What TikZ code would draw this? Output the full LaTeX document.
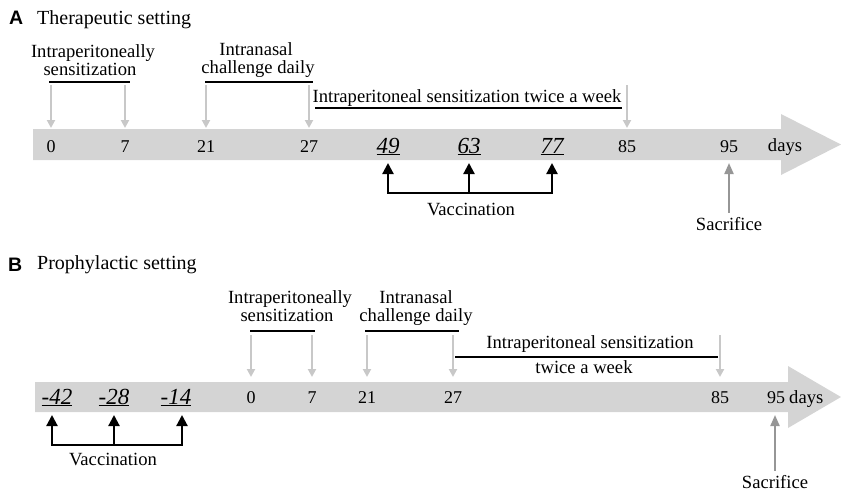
\documentclass[tikz,border=0pt]{standalone}
\usepackage{fontspec}
\setmainfont{Liberation Serif}
\newfontfamily\headfont{Liberation Sans}
\usetikzlibrary{arrows.meta}
\definecolor{bargray}{RGB}{212,212,212}
\definecolor{tickgray}{RGB}{200,200,200}
\definecolor{sacgray}{RGB}{150,150,150}

\begin{document}
\begin{tikzpicture}[x=1pt, y=-1pt,
    lbl/.style={anchor=base, inner sep=0pt, font=\fontsize{18.6}{20}\selectfont},
    title/.style={anchor=base west, inner sep=0pt, font=\fontsize{20}{22}\selectfont},
    panel/.style={anchor=base west, inner sep=0pt, font=\headfont\bfseries\fontsize{19.5}{22}\selectfont},
    num/.style={lbl, font=\fontsize{18}{20}\selectfont},
    vnum/.style={lbl, font=\fontsize{23}{25}\selectfont\itshape},
    bar/.style={fill=bargray, draw=none},
    tickarrow/.style={-{Triangle[width=8pt,length=8pt]}, line width=2.6pt, tickgray},
    bracket/.style={line width=1.3pt, black},
    vacarrow/.style={-{Triangle[width=11pt,length=11pt]}, line width=2.2pt, black},
    vacline/.style={line width=2.2pt, black, line cap=rect},
    sacarrow/.style={-{Triangle[width=9pt,length=11pt]}, line width=2pt, sacgray}
  ]
  \useasboundingbox (0,0) rectangle (841,491);

  % ---- A: therapeutic setting ----
  \node[panel] (headA) at (9,24) {A};
  \node[title] (titleA) at (37,24) {Therapeutic setting};

  \fill[bar] (33,129) -- (781,129) -- (781,114) -- (841,144.5) -- (781,175) -- (781,160) -- (33,160) -- cycle;

  \node[num] (a0) at (51,152) {0};
  \node[num] (a7) at (125,152) {7};
  \node[num] (a21) at (206,152) {21};
  \node[num] (a27) at (309,152) {27};
  \node[vnum] (a49) at (388,153) {\underline{49}};
  \node[vnum] (a63) at (469,153) {\underline{63}};
  \node[vnum] (a77) at (552,153) {\underline{77}};
  \node[num] (a85) at (627,152) {85};
  \node[num] (a95) at (729,152) {95};
  \node[lbl] (daysA) at (785,151) {days};

  \node[lbl] (ipsA1) at (93,57) {Intraperitoneally};
  \node[lbl] (ipsA2) at (90,75) {sensitization};
  \node[lbl] (inA1) at (256,55) {Intranasal};
  \node[lbl] (inA2) at (258,73) {challenge daily};
  \node[lbl] (twA) at (467,102) {Intraperitoneal sensitization twice a week};

  \coordinate (tickAtop) at (0,85);
  \coordinate (tickAbot) at (0,128);
  \coordinate (brA) at (0,82);
  \coordinate (twlineA) at (0,108);
  \foreach \n in {a0,a7,a21,a27,a85}
    \draw[tickarrow] (\n |- tickAtop) -- (\n |- tickAbot);
  \draw[bracket, shorten <=-2pt, shorten >=-5pt] (a0 |- brA) -- (a7 |- brA);
  \draw[bracket, shorten <=-1pt, shorten >=-4pt] (a21 |- brA) -- (a27 |- brA);
  \draw[bracket, shorten <=6pt, shorten >=5pt] (a27 |- twlineA) -- (a85 |- twlineA);

  % vaccination
  \coordinate (vacA) at (0,193);
  \coordinate (barAbot) at (0,163);
  \draw[vacline] (a49 |- vacA) -- (a77 |- vacA);
  \foreach \n in {a49,a63,a77}
    \draw[vacarrow] (\n |- vacA) -- (\n |- barAbot);
  \node[lbl] (vacAtxt) at (471,215) {Vaccination};

  \node[lbl] (sacA) at (729,230) {Sacrifice};
  \draw[sacarrow, shorten <=4pt] (sacA.north) -- (sacA.north |- barAbot);

  % ---- B: prophylactic setting ----
  \node[panel] (headB) at (8,271) {B};
  \node[title] (titleB) at (37,269) {Prophylactic setting};

  \fill[bar] (35,382) -- (788,382) -- (788,366) -- (841,397) -- (788,428) -- (788,412) -- (35,412) -- cycle;

  \node[vnum] (bm42) at (57,404) {\underline{-42}};
  \node[vnum] (bm28) at (114,404) {\underline{-28}};
  \node[vnum] (bm14) at (176,404) {\underline{-14}};
  \node[num] (b0) at (251,403) {0};
  \node[num] (b7) at (312,403) {7};
  \node[num] (b21) at (367,403) {21};
  \node[num] (b27) at (453,403) {27};
  \node[num] (b85) at (720,403) {85};
  \node[num] (b95) at (776,403) {95};
  \node[lbl, anchor=base west] (daysB) at (789,403) {days};

  \node[lbl] (ipsB1) at (290,303) {Intraperitoneally};
  \node[lbl] (ipsB2) at (287,321) {sensitization};
  \node[lbl] (inB1) at (416,303) {Intranasal};
  \node[lbl] (inB2) at (416,321) {challenge daily};
  \node[lbl] (twB1) at (590,348) {Intraperitoneal sensitization};
  \node[lbl] (twB2) at (584,373) {twice a week};

  \coordinate (tickBtop) at (0,335);
  \coordinate (tickBbot) at (0,377);
  \coordinate (brB) at (0,331);
  \coordinate (twlineB) at (0,357);
  \foreach \n in {b0,b7,b21,b27,b85}
    \draw[tickarrow] (\n |- tickBtop) -- (\n |- tickBbot);
  \draw[bracket, shorten <=-1pt, shorten >=-3pt] (b0 |- brB) -- (b7 |- brB);
  \draw[bracket, shorten <=-2pt, shorten >=-6pt] (b21 |- brB) -- (b27 |- brB);
  \draw[bracket, shorten <=2pt, shorten >=2pt] (b27 |- twlineB) -- (b85 |- twlineB);

  % vaccination
  \coordinate (vB1) at (52,445);
  \coordinate (vB2) at (114,445);
  \coordinate (vB3) at (182,445);
  \coordinate (barBbot) at (0,415);
  \draw[vacline] (vB1) -- (vB3);
  \foreach \n in {vB1,vB2,vB3}
    \draw[vacarrow] (\n) -- (\n |- barBbot);
  \node[lbl] (vacBtxt) at (113,465) {Vaccination};

  \node[lbl] (sacB) at (775,488) {Sacrifice};
  \draw[sacarrow, shorten <=4pt] (sacB.north) -- (sacB.north |- barBbot);
\end{tikzpicture}
\end{document}
